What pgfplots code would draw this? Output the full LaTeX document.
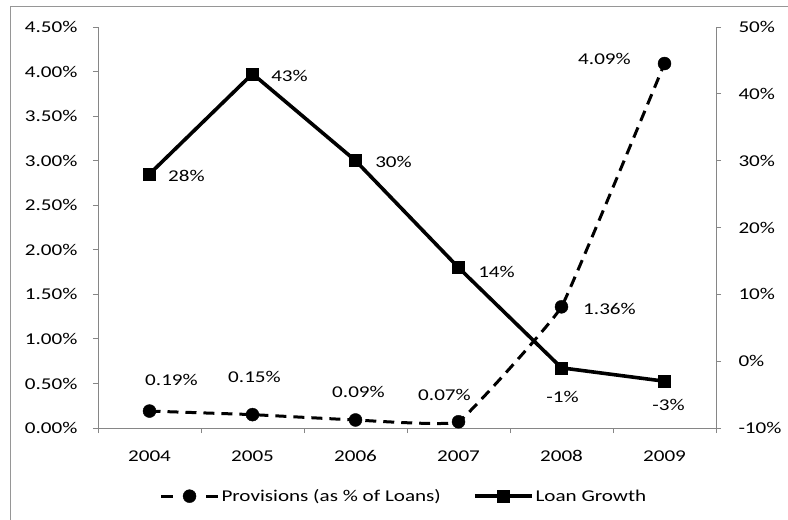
\documentclass[border=0pt]{standalone}
\usepackage{fontspec}
\setmainfont[FakeStretch=1.28]{Carlito}
\usepackage{pgfplots}
\pgfplotsset{compat=1.18}
\usepackage{pgfplotstable}
\definecolor{axgray}{RGB}{134,134,134}
\definecolor{bordergray}{RGB}{150,150,150}
\newcommand\fs{\fontsize{16.5bp}{19bp}\selectfont}

\pgfplotstableread{
x y lab dx dy
0 0.19 0.19 22 31
1 0.15 0.15 2 38
2 0.09 0.09 3 28
3 0.07 0.07 -14 27
4 1.36 1.36 48 -2
5 4.09 4.09 -60 5
}\prov

\pgfplotstableread{
x y lab dx dy
0 28 28 37 -2
1 43 43 37 -2
2 30 30 38 -1
3 14 14 38 -4
4 -1 -1 1 -29
5 -3 -3 4 -24
}\growth

\pgfplotsset{
  common/.style={scale only axis, width=618bp, height=401bp,
    at={(98bp,92bp)}, anchor=south west, xmin=-0.5, xmax=5.5,
    tick align=outside, major tick length=5bp,
    axis line style={axgray, line width=0.9bp},
    tick style={axgray, line width=0.9bp},
    ticklabel style={font=\fs, text=black}, clip=false},
  provstyle/.style={black, line width=3bp, dash pattern=on 11bp off 7bp,
    mark=*, mark size=6.5bp, mark options={solid, line width=0.4bp}},
  growstyle/.style={black, line width=3.6bp,
    mark=square*, mark size=6bp, mark options={solid, line width=0.4bp}},
  provlegend/.style={legend image code/.code={%
    \draw[##1, dash pattern=on 12bp off 33bp] (0bp,0bp) -- (57bp,0bp);
    \draw[##1, solid] plot coordinates {(28.5bp,0bp)};}},
  labs/.style={nodes near coords={\pgfplotspointmeta\%}, point meta=explicit symbolic,
    visualization depends on={\thisrow{dx} \as \dx},
    visualization depends on={\thisrow{dy} \as \dy},
    nodes near coords style={anchor=center, xshift=\dx*1bp, yshift=\dy*1bp, font=\fs, text=black}}
}

\begin{document}
\begin{tikzpicture}
\useasboundingbox (0,0) rectangle (788bp,520bp);
\fill[white] (0,0) rectangle (788bp,520bp);
\draw[bordergray, line width=1bp] (10.5bp,-2bp) -- (10.5bp,513bp) -- (790bp,513bp);
\begin{axis}[common,
  axis x line*=bottom, axis y line*=left,
  ymin=0, ymax=4.5, ytick={0,0.5,...,4.5},
  yticklabels={0.00\%,0.50\%,1.00\%,1.50\%,2.00\%,2.50\%,3.00\%,3.50\%,4.00\%,4.50\%},
  yticklabel style={xshift=-12bp},
  xtick={-0.5,0.5,...,5.5}, xticklabels={,,,,,,,},
  extra x ticks={0,1,2,3,4,5},
  extra x tick labels={2004,2005,2006,2007,2008,2009},
  extra x tick style={major tick length=0pt, xticklabel style={yshift=-19bp}},
  legend style={at={(0.495,-0.170)}, anchor=center, draw=none, fill=none,
    legend columns=2, font=\fs,
    /tikz/every even column/.append style={column sep=30bp}},
  legend image code/.code={\draw[mark repeat=2,mark phase=2,#1] plot coordinates {(0bp,0bp) (28.5bp,0bp) (57bp,0bp)};},
]
\addplot[provstyle, smooth, tension=0.15, labs, provlegend]
  table[x=x, y=y, meta=lab] {\prov};
\addlegendentry{Provisions (as \% of Loans)}
\addlegendimage{growstyle}
\addlegendentry{Loan Growth}
\end{axis}
\begin{axis}[common,
  axis y line*=right, axis x line=none,
  ymin=-10, ymax=50, ytick={-10,0,...,50},
  yticklabels={-10\%,0\%,10\%,20\%,30\%,40\%,50\%},
  yticklabel style={xshift=14bp},
]
\addplot[growstyle, labs] table[x=x, y=y, meta=lab] {\growth};
\end{axis}
\end{tikzpicture}
\end{document}
